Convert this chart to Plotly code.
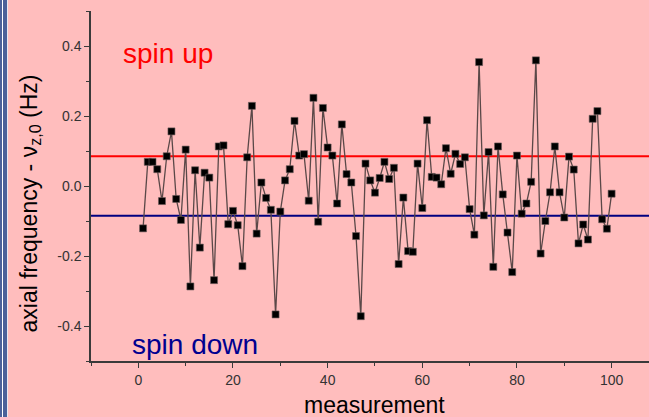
import plotly.graph_objects as go

measurement = list(range(1, 101))
freq = [
    -0.121, 0.069, 0.069, 0.048, -0.043, 0.085, 0.156, -0.037, -0.097, 0.104,
    -0.287, 0.045, -0.176, 0.038, 0.024, -0.269, 0.113, 0.116, -0.109, -0.071,
    -0.112, -0.229, 0.082, 0.229, -0.136, 0.010, -0.034, -0.068, -0.367, -0.073,
    0.016, 0.048, 0.186, 0.087, 0.091, -0.042, 0.252, -0.102, 0.223, 0.110,
    0.087, -0.050, 0.176, 0.034, 0.010, -0.143, -0.372, 0.064, 0.016, -0.019,
    0.023, 0.069, 0.020, 0.052, -0.223, -0.033, -0.186, -0.188, 0.064, -0.063,
    0.188, 0.026, 0.024, 0.005, 0.108, 0.035, 0.092, 0.063, 0.082, -0.066,
    -0.139, 0.354, -0.084, 0.097, -0.231, 0.113, -0.024, -0.133, -0.246, 0.087,
    -0.079, -0.050, 0.012, 0.359, -0.193, -0.100, -0.018, 0.113, -0.018, -0.090,
    0.084, 0.047, -0.164, -0.110, -0.153, 0.192, 0.214, -0.095, -0.122, -0.022,
]
spin_up_level = 0.085
spin_down_level = -0.085
y_tick_vals = [-0.4, -0.2, 0.0, 0.2, 0.4]
y_tick_text = ["-0.4", "-0.2", "0.0", "0.2", "0.4"]
x_tick_vals = [0, 20, 40, 60, 80, 100]
x_tick_text = ["0", "20", "40", "60", "80", "100"]

PINK = "#FFBDBD"
AX = "#3a3a3a"
FONT = "Liberation Sans, Arial, sans-serif"

fig = go.Figure()
fig.add_trace(go.Scatter(
    x=measurement, y=freq, mode="lines+markers",
    line=dict(color="#5a4848", width=1.3),
    marker=dict(symbol="square", size=7, color="black",
                line=dict(color="#6a5a5a", width=0.6)),
    showlegend=False, hoverinfo="skip",
))

# horizontal reference levels
fig.add_shape(type="line", xref="paper", yref="y", x0=0, x1=1,
              y0=spin_up_level, y1=spin_up_level,
              line=dict(color="#FF0000", width=2), layer="below")
fig.add_shape(type="line", xref="paper", yref="y", x0=0, x1=1,
              y0=spin_down_level, y1=spin_down_level,
              line=dict(color="#000080", width=2), layer="below")

L, W = 91, 558

fig.add_annotation(x=6.3, y=0.379, xref="x", yref="y", text="spin up",
                   showarrow=False, font=dict(family=FONT, size=28, color="#FF0000"))
fig.add_annotation(x=11.9, y=-0.452, xref="x", yref="y", text="spin down",
                   showarrow=False, font=dict(family=FONT, size=28, color="#000090"))
fig.add_annotation(x=(14 - L) / W, y=(361 - 204) / 350, xref="paper", yref="paper",
                   text="axial frequency - ν<sub>z,0</sub> (Hz)", textangle=-90,
                   showarrow=False, font=dict(family=FONT, size=23, color="black"))
fig.add_annotation(x=(374.5 - L) / W, y=(361 - 420) / 350, xref="paper", yref="paper",
                   text="measurement", showarrow=False,
                   font=dict(family=FONT, size=23, color="black"))

fig.update_layout(
    width=649, height=417, autosize=False,
    margin=dict(l=L, r=0, t=11, b=56, pad=0),
    paper_bgcolor=PINK, plot_bgcolor=PINK,
    font=dict(family=FONT, size=14, color="#333333"),
    xaxis=dict(range=[-10, 107.9], showgrid=False, zeroline=False,
               showline=True, linecolor=AX, linewidth=1.5,
               tickmode="array", tickvals=x_tick_vals, ticktext=x_tick_text,
               ticks="outside", ticklen=5, tickwidth=1.2, tickcolor=AX,
               minor=dict(tickmode="linear", tick0=0, dtick=10, ticks="outside",
                          ticklen=3, tickwidth=1.2, tickcolor=AX),
               tickfont=dict(size=14, color="#333333")),
    xaxis2=dict(range=[-10, 107.9], overlaying="x", side="top", anchor="y",
                showgrid=False, zeroline=False, showline=True, linecolor=AX,
                linewidth=1.5, showticklabels=False,
                tickmode="linear", tick0=0, dtick=20,
                ticks="inside", ticklen=5, tickwidth=1.2, tickcolor=AX,
                minor=dict(tickmode="linear", tick0=0, dtick=10, ticks="inside",
                           ticklen=3, tickwidth=1.2, tickcolor=AX)),
    yaxis=dict(range=[-0.5, 0.5], showgrid=False, zeroline=False,
               showline=True, linecolor=AX, linewidth=1.5,
               tickmode="array", tickvals=y_tick_vals, ticktext=y_tick_text,
               ticks="outside", ticklen=5, tickwidth=1.2, tickcolor=AX,
               minor=dict(tickmode="linear", tick0=0, dtick=0.1, ticks="outside",
                          ticklen=3, tickwidth=1.2, tickcolor=AX),
               tickfont=dict(size=14, color="#333333")),
)

border_div = (
    "<div style=\"position:fixed;left:0;top:0;width:9px;height:100%;z-index:10;"
    "background:linear-gradient(to right,#4b6199 0px,#4b6199 2px,#ffffff 2px,#ffffff 3px,"
    "#4b6199 3px,#4b6199 7px,#e6e6ef 7px,#e6e6ef 8px," + PINK + " 8px)\"></div>"
)

fig.write_html(
    "out.html",
    config={"displayModeBar": False},
    post_script="document.body.style.margin='0';document.body.style.overflow='hidden';"
                "document.body.style.background='" + PINK + "';"
                "document.body.insertAdjacentHTML('beforeend','" + border_div + "');",
)
